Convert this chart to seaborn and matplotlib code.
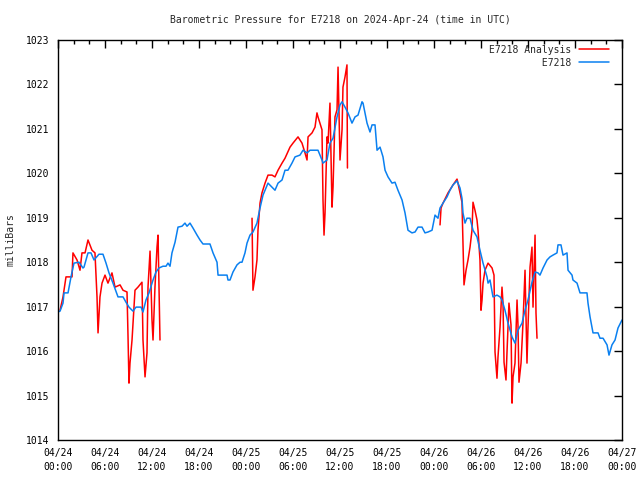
import seaborn as sns
import matplotlib.pyplot as plt
from matplotlib.ticker import MultipleLocator
import pandas as pd

sns.set_style('white')
plt.rcParams['font.family'] = ['DejaVu Sans Mono']

# station record (hours since 2024-04-24 00:00 UTC, pressure in mbar)
obs_hours = [0.0, 0.26, 0.64, 0.77, 1.28, 1.66, 2.04, 2.68, 3.19, 3.32, 3.83, 4.21, 4.6, 5.23, 5.74,
             6.13, 6.51, 7.02, 7.66, 8.3, 8.68, 9.06, 9.57, 9.96, 10.6, 10.85, 11.23, 11.62, 12.13,
             12.51, 12.89, 13.4, 13.79, 14.04, 14.3, 14.55, 14.94, 15.32, 15.83, 16.21, 16.47, 16.85,
             17.23, 17.75, 18.13, 18.51, 19.4, 19.79, 20.3, 20.43, 21.58, 21.7, 21.96, 22.34, 22.85,
             23.24, 23.49, 23.87, 24.13, 24.51, 24.89, 25.4, 25.79, 26.17, 26.81, 27.32, 27.7, 28.09,
             28.6, 28.98, 29.36, 29.87, 30.26, 30.89, 31.28, 31.79, 32.17, 33.19, 33.7, 33.83, 34.34,
             34.72, 35.11, 35.62, 36.0, 36.26, 36.64, 37.02, 37.53, 37.92, 38.3, 38.81, 38.94, 39.45,
             39.83, 40.09, 40.47, 40.73, 41.11, 41.49, 41.75, 42.13, 42.64, 43.02, 43.4, 43.92, 44.3,
             44.68, 45.19, 45.58, 45.96, 46.47, 46.85, 47.24, 47.75, 48.13, 48.51, 48.77, 49.15, 49.66,
             50.04, 50.43, 50.94, 51.32, 51.57, 51.7, 51.96, 52.21, 52.6, 52.98, 53.49, 53.87, 54.26,
             54.77, 54.9, 55.15, 55.53, 56.04, 56.43, 56.68, 57.06, 57.45, 57.96, 58.34, 58.72, 59.24,
             59.62, 60.0, 60.51, 60.9, 61.28, 61.53, 61.92, 62.43, 62.81, 63.19, 63.7, 63.83, 64.21,
             64.47, 64.98, 65.11, 65.62, 65.74, 66.26, 66.64, 67.53, 67.66, 67.92, 68.17, 68.3, 68.94,
             69.19, 69.58, 70.09, 70.34, 70.72, 71.11, 71.49, 72.0]
obs_press = [1016.88, 1016.9, 1017.08, 1017.31, 1017.31, 1017.67, 1017.98, 1018.0, 1017.87, 1017.89,
             1018.21, 1018.21, 1018.05, 1018.18, 1018.18, 1017.98, 1017.76, 1017.53, 1017.22, 1017.22,
             1017.1, 1016.99, 1016.9, 1016.99, 1016.99, 1016.88, 1017.15, 1017.31, 1017.6, 1017.78,
             1017.87, 1017.91, 1017.91, 1017.98, 1017.91, 1018.21, 1018.45, 1018.79, 1018.81, 1018.88,
             1018.81, 1018.88, 1018.77, 1018.61, 1018.5, 1018.41, 1018.41, 1018.21, 1018.0, 1017.71,
             1017.71, 1017.6, 1017.6, 1017.78, 1017.94, 1018.0, 1018.0, 1018.21, 1018.43, 1018.61,
             1018.68, 1018.88, 1019.22, 1019.51, 1019.78, 1019.69, 1019.62, 1019.78, 1019.85, 1020.07,
             1020.07, 1020.23, 1020.37, 1020.41, 1020.52, 1020.46, 1020.52, 1020.52, 1020.3, 1020.23,
             1020.3, 1020.68, 1020.79, 1021.27, 1021.54, 1021.61, 1021.49, 1021.36, 1021.13, 1021.27,
             1021.31, 1021.61, 1021.58, 1021.13, 1020.93, 1021.09, 1021.09, 1020.52, 1020.59, 1020.37,
             1020.07, 1019.92, 1019.78, 1019.8, 1019.62, 1019.4, 1019.11, 1018.72, 1018.66, 1018.68,
             1018.79, 1018.79, 1018.66, 1018.68, 1018.72, 1019.06, 1018.99, 1019.22, 1019.33, 1019.47,
             1019.62, 1019.74, 1019.83, 1019.67, 1019.44, 1019.11, 1018.88, 1018.99, 1018.99, 1018.72,
             1018.57, 1018.27, 1017.98, 1017.67, 1017.53, 1017.6, 1017.22, 1017.26, 1017.22, 1017.15,
             1016.92, 1016.63, 1016.32, 1016.18, 1016.47, 1016.63, 1016.92, 1017.15, 1017.55, 1017.78,
             1017.76, 1017.71, 1017.87, 1018.05, 1018.12, 1018.16, 1018.21, 1018.39, 1018.39, 1018.16,
             1018.21, 1017.82, 1017.71, 1017.6, 1017.53, 1017.31, 1017.31, 1017.08, 1016.77, 1016.54,
             1016.41, 1016.41, 1016.29, 1016.29, 1016.14, 1015.91, 1016.14, 1016.25, 1016.52, 1016.7]

# analysis, three separate runs
ana1_hours = [0.26, 0.64, 1.02, 1.79, 1.91, 2.43, 2.81, 3.06, 3.45, 3.83, 4.34, 4.72, 4.98, 5.11,
              5.36, 5.62, 6.0, 6.38, 6.89, 7.28, 7.92, 8.3, 8.81, 8.94, 9.06, 9.19, 9.45, 9.83, 10.21,
              10.72, 10.85, 11.11, 11.36, 11.49, 11.75, 12.0, 12.13, 12.38, 12.64, 12.77, 13.02]
ana1_press = [1016.92, 1017.22, 1017.67, 1017.67, 1018.21, 1018.05, 1017.82, 1018.21, 1018.21,
              1018.5, 1018.27, 1018.21, 1017.22, 1016.41, 1017.22, 1017.53, 1017.71, 1017.53, 1017.76,
              1017.44, 1017.49, 1017.37, 1017.33, 1016.32, 1015.28, 1015.73, 1016.25, 1017.37, 1017.44,
              1017.55, 1016.25, 1015.42, 1015.96, 1017.44, 1018.25, 1016.7, 1016.25, 1017.44, 1018.34,
              1018.61, 1016.25]
ana2_hours = [24.77, 24.89, 25.15, 25.4, 25.53, 25.79, 26.04, 26.43, 26.81, 27.32, 27.7, 28.09, 28.6,
              28.98, 29.62, 30.0, 30.64, 31.15, 31.53, 31.79, 31.92, 32.43, 32.81, 33.06, 33.19, 33.7,
              33.83, 33.96, 34.09, 34.34, 34.47, 34.72, 34.98, 35.11, 35.36, 35.62, 35.75, 36.0, 36.26,
              36.38, 36.64, 36.89, 36.95]
ana2_press = [1018.99, 1017.37, 1017.67, 1018.05, 1018.72, 1019.33, 1019.56, 1019.78, 1019.96,
              1019.96, 1019.92, 1020.07, 1020.23, 1020.34, 1020.59, 1020.68, 1020.82, 1020.68, 1020.46,
              1020.3, 1020.82, 1020.91, 1021.04, 1021.36, 1021.27, 1020.98, 1019.4, 1018.61, 1019.11,
              1020.82, 1020.68, 1021.58, 1019.24, 1019.69, 1021.27, 1021.43, 1022.39, 1020.3, 1020.98,
              1021.94, 1022.17, 1022.44, 1020.12]
ana3_hours = [48.77, 48.9, 49.15, 49.79, 50.43, 50.94, 51.06, 51.57, 51.7, 51.83, 52.09, 52.34, 52.6,
              52.85, 52.98, 53.23, 53.49, 53.62, 53.87, 54.0, 54.13, 54.26, 54.51, 54.9, 55.41, 55.66,
              55.79, 56.04, 56.17, 56.43, 56.68, 56.81, 56.94, 57.19, 57.32, 57.57, 57.83, 57.96, 58.09,
              58.34, 58.6, 58.72, 58.85, 59.11, 59.36, 59.62, 59.87, 60.0, 60.26, 60.51, 60.64, 60.9,
              61.02, 61.15]
ana3_press = [1018.84, 1019.22, 1019.33, 1019.56, 1019.74, 1019.87, 1019.78, 1019.35, 1018.43,
              1017.49, 1017.82, 1018.05, 1018.34, 1018.72, 1019.35, 1019.17, 1018.95, 1018.72, 1018.05,
              1016.92, 1017.15, 1017.53, 1017.82, 1017.98, 1017.87, 1017.71, 1015.98, 1015.39, 1015.87,
              1016.54, 1017.44, 1017.08, 1015.75, 1015.35, 1015.98, 1017.08, 1016.59, 1014.83, 1015.42,
              1015.73, 1017.15, 1016.59, 1015.3, 1015.73, 1016.63, 1017.82, 1015.73, 1016.54, 1017.89,
              1018.34, 1016.99, 1018.61, 1016.86, 1016.29]

xtick_hours = [0, 6, 12, 18, 24, 30, 36, 42, 48, 54, 60, 66, 72]
xtick_labels = ['04/24\n00:00', '04/24\n06:00', '04/24\n12:00', '04/24\n18:00',
                '04/25\n00:00', '04/25\n06:00', '04/25\n12:00', '04/25\n18:00',
                '04/26\n00:00', '04/26\n06:00', '04/26\n12:00', '04/26\n18:00',
                '04/27\n00:00']
ytick_vals = [1014, 1015, 1016, 1017, 1018, 1019, 1020, 1021, 1022, 1023]

ana = pd.concat([
    pd.DataFrame({'hour': ana1_hours, 'press': ana1_press, 'run': 1}),
    pd.DataFrame({'hour': ana2_hours, 'press': ana2_press, 'run': 2}),
    pd.DataFrame({'hour': ana3_hours, 'press': ana3_press, 'run': 3}),
])
obs = pd.DataFrame({'hour': obs_hours, 'press': obs_press})

fig = plt.figure(figsize=(6.4, 4.8), dpi=100)
ax = fig.add_axes([58 / 640, 40 / 480, 564 / 640, 400 / 480])

sns.lineplot(data=ana, x='hour', y='press', units='run', estimator=None, color='#ff0000',
             lw=1.1, ax=ax, label='E7218 Analysis', sort=False)
sns.lineplot(data=obs, x='hour', y='press', color='#0a80f0', lw=1.1, ax=ax,
             label='         E7218', sort=False)

ax.set_xlim(0, 72)
ax.set_ylim(1014, 1023)
ax.set_xticks(xtick_hours)
ax.set_xticklabels(xtick_labels, linespacing=1.5)
ax.set_yticks(ytick_vals)
ax.set_yticklabels([str(v) for v in ytick_vals])
ax.xaxis.set_minor_locator(MultipleLocator(2))
ax.tick_params(which='both', direction='in', top=True, right=True, labelsize=7, colors='black')
ax.tick_params(which='major', length=6, width=1, pad=6)
ax.tick_params(which='minor', length=3, width=1)
for s in ax.spines.values():
    s.set_color('black')
    s.set_linewidth(1)

ax.set_xlabel('')
ax.set_ylabel('milliBars', fontsize=7, labelpad=8)
fig.text(340 / 640, 1 - 20 / 480, 'Barometric Pressure for E7218 on 2024-Apr-24 (time in UTC)',
         ha='center', va='center', fontsize=7)

# one legend entry per series
handles, labels = ax.get_legend_handles_labels()
uniq = dict(zip(labels, handles))
ax.legend(list(uniq.values()), list(uniq.keys()), loc='upper right', frameon=False,
          markerfirst=False, fontsize=7, handlelength=3.1, handletextpad=0.8,
          labelspacing=0.3, borderaxespad=0.2, borderpad=0.3, bbox_to_anchor=(0.986, 1.0))

fig.savefig('out.png', dpi=100)
